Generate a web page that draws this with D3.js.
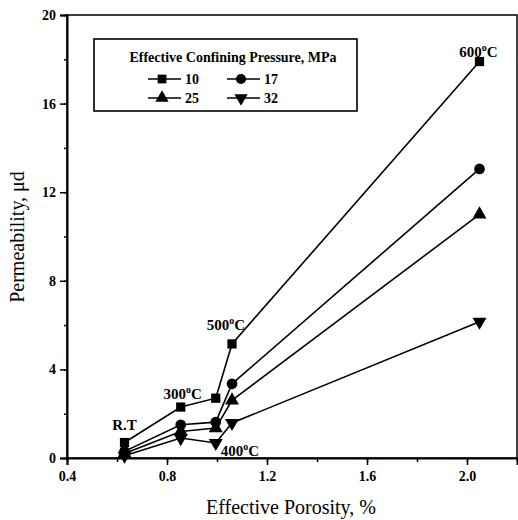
<!DOCTYPE html>
<html>
<head>
<meta charset="utf-8">
<script src="https://cdn.jsdelivr.net/npm/d3@7/dist/d3.min.js"></script>
<style>
  body { margin: 0; background: #fff; }
  svg { display: block; }
  text { font-family: "Liberation Serif", "Times New Roman", serif; fill: #000; }
</style>
</head>
<body>
<svg id="chart" width="518" height="520"></svg>
<script>
// ---- data ----
const porosity = [0.63, 0.855, 0.995, 1.06, 2.05];
const series10 = [0.7, 2.3, 2.7, 5.15, 17.9];
const series17 = [0.3, 1.5, 1.62, 3.35, 13.05];
const series25 = [0.2, 1.2, 1.35, 2.6, 11.0];
const series32 = [0.1, 0.9, 0.68, 1.58, 6.15];
const pressures = ["10", "17", "25", "32"];
const symbols = ["square", "circle", "triangle", "triangleDown"];
const tempLabels = ["R.T", "300", "400", "500", "600"];
const xTicks = [0.4, 0.8, 1.2, 1.6, 2.0];
const yTicks = [0, 4, 8, 12, 16, 20];

const svg = d3.select("#chart");
const x = d3.scaleLinear().domain([0.4, 2.2]).range([67, 517]);
const y = d3.scaleLinear().domain([0, 20]).range([458, 15]);

// frame
svg.append("rect").attr("x", x(0.4)).attr("y", y(20))
  .attr("width", x(2.2) - x(0.4)).attr("height", y(0) - y(20))
  .attr("fill", "none").attr("stroke", "#000").attr("stroke-width", 1.5);

// x axis
const xMinor = d3.range(0.4, 2.21, 0.2);
svg.append("g").attr("transform", `translate(0,${y(0)})`)
  .call(d3.axisBottom(x).tickValues(xMinor).tickSize(4).tickFormat(""))
  .call(g => g.select(".domain").remove())
  .call(g => g.selectAll("line").attr("stroke-width", 1.5));
svg.append("g").attr("transform", `translate(0,${y(0)})`)
  .call(d3.axisBottom(x).tickValues(xTicks).tickSize(7).tickPadding(6).tickFormat(d3.format(".1f")))
  .call(g => g.select(".domain").attr("stroke-width", 2))
  .call(g => g.selectAll("line").attr("stroke-width", 1.5))
  .call(g => g.selectAll("text").attr("font-family", "Liberation Serif").attr("font-weight", "bold").attr("font-size", 14));

// y axis
const yMinor = d3.range(0, 20.1, 2);
svg.append("g").attr("transform", `translate(${x(0.4)},0)`)
  .call(d3.axisLeft(y).tickValues(yMinor).tickSize(3).tickFormat(""))
  .call(g => g.select(".domain").remove())
  .call(g => g.selectAll("line").attr("stroke-width", 1.5));
svg.append("g").attr("transform", `translate(${x(0.4)},0)`)
  .call(d3.axisLeft(y).tickValues(yTicks).tickSize(7).tickPadding(4).tickFormat(d3.format("d")))
  .call(g => g.select(".domain").attr("stroke-width", 2))
  .call(g => g.selectAll("line").attr("stroke-width", 1.5))
  .call(g => g.selectAll("text").attr("font-family", "Liberation Serif").attr("font-weight", "bold").attr("font-size", 14));

// axis titles
svg.append("text").attr("x", 291).attr("y", 514).attr("text-anchor", "middle")
  .attr("font-size", 20).text("Effective Porosity, %");
svg.append("text").attr("transform", "translate(24,237) rotate(-90)").attr("text-anchor", "middle")
  .attr("font-size", 20).text("Permeability, \u03BCd");

// symbols
const symMap = {
  square: { type: d3.symbolSquare, size: 85, rot: 0 },
  circle: { type: d3.symbolCircle, size: 90, rot: 0 },
  triangle: { type: d3.symbolTriangle, size: 85, rot: 0 },
  triangleDown: { type: d3.symbolTriangle, size: 85, rot: 180 }
};
function drawSym(g, name, cx, cy, scale) {
  const s = symMap[name];
  g.append("path").attr("d", d3.symbol().type(s.type).size(s.size * (scale || 1))())
    .attr("transform", `translate(${cx},${cy}) rotate(${s.rot})`)
    .attr("fill", "#000");
}

const allSeries = [series10, series17, series25, series32];
const line = d3.line().x(d => x(d[0])).y(d => y(d[1]));
allSeries.forEach((vals, i) => {
  const pts = porosity.map((p, j) => [p, vals[j]]);
  svg.append("path").attr("d", line(pts)).attr("fill", "none")
    .attr("stroke", "#000").attr("stroke-width", 1.6);
});
allSeries.slice().reverse().forEach((vals, ri) => {
  const i = allSeries.length - 1 - ri;
  const g = svg.append("g");
  porosity.forEach((p, j) => drawSym(g, symbols[i], x(p), y(vals[j])));
});

// temperature labels
function tempLabel(tx, ty, t, anchor) {
  const el = svg.append("text").attr("x", tx).attr("y", ty)
    .attr("font-size", 15).attr("font-weight", "bold").attr("text-anchor", anchor || "middle");
  if (t === "R.T") { el.text(t); return; }
  el.append("tspan").text(t);
  el.append("tspan").attr("dy", -6).attr("font-size", 10).text("o");
  el.append("tspan").attr("dy", 6).text("C");
}
tempLabel(x(porosity[0]) + 0, y(series10[0]) - 12, tempLabels[0]);
tempLabel(x(porosity[1]) + 2, y(series10[1]) - 8, tempLabels[1]);
tempLabel(x(porosity[2]) + 5, y(series32[2]) + 13, tempLabels[2], "start");
tempLabel(x(porosity[3]) - 6, y(series10[3]) - 14, tempLabels[3]);
tempLabel(x(porosity[4]) - 1, y(series10[4]) - 5, tempLabels[4]);

// legend
const lg = svg.append("g");
lg.append("rect").attr("x", 94).attr("y", 39).attr("width", 263).attr("height", 72)
  .attr("fill", "#fff").attr("stroke", "#000").attr("stroke-width", 1.6);
lg.append("text").attr("x", 233).attr("y", 62).attr("text-anchor", "middle")
  .attr("font-size", 14).attr("font-weight", "bold").text("Effective Confining Pressure, MPa");
const legPos = [[148, 79], [227, 79], [148, 98], [227, 98]];
pressures.forEach((p, i) => {
  const [lx, ly] = legPos[i];
  lg.append("line").attr("x1", lx).attr("x2", lx + 33).attr("y1", ly).attr("y2", ly)
    .attr("stroke", "#000").attr("stroke-width", 1.4);
  drawSym(lg, symbols[i], lx + 14, ly, 0.9);
  lg.append("text").attr("x", lx + 37).attr("y", ly + 5).attr("font-size", 14)
    .attr("font-weight", "bold").text(p);
});
</script>
</body>
</html>
